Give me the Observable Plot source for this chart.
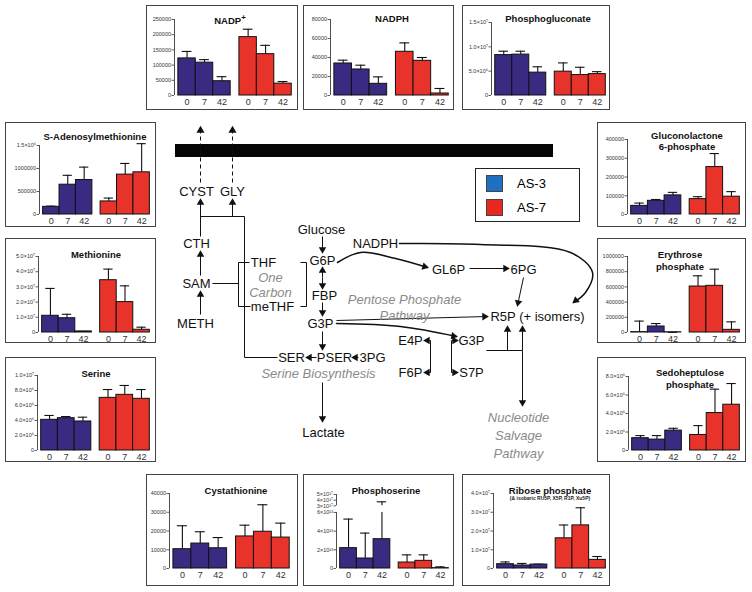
<!DOCTYPE html>
<html><head><meta charset="utf-8">
<script src="https://cdn.jsdelivr.net/npm/d3@7"></script>
<script src="https://cdn.jsdelivr.net/npm/@observablehq/plot@0.6"></script>
<style>
body{margin:0;background:#fff;font-family:"Liberation Sans",Arial,sans-serif;}
#root{position:relative;width:752px;height:592px;overflow:hidden;background:#fff}
.box{position:absolute;border:1px solid #444;background:#fff;box-sizing:border-box}
.box svg{position:absolute;left:0;top:0;overflow:visible}
.title{position:absolute;font-weight:bold;font-size:9.5px;text-align:center;white-space:nowrap;transform:translate(-50%,-50%);line-height:11px;color:#111}
.sub{position:absolute;font-weight:bold;font-size:5px;white-space:nowrap;transform:translate(-50%,-50%);color:#222}
#legend{position:absolute;left:475px;top:168px;width:105px;height:54px;border:1px solid #222;box-sizing:border-box;font-size:13px}
#legend .row{position:absolute;left:10px;height:17px;display:flex;align-items:center}
#legend .sw{width:17px;height:17px;margin-right:14px;box-sizing:border-box;border:1px solid #444}
</style></head><body><div id="root"></div><script>
// ---------- data ----------
const timepoints = ["0", "7", "42"];
const groups = ["AS-3", "AS-7"];
const groupColors = ["#3a2a82", "#e8332b"];
const legendColors = ["#1f6fc2", "#e8271e"];

// means then upper error-bar ends: AS-3 (0,7,42), AS-7 (0,7,42)
const nadpMean  = [122000, 108000, 47000, 192000, 136000, 39000];
const nadpErr   = [145000, 118000, 62000, 218000, 165000, 46000];
const nadphMean = [33700, 27400, 12300, 46000, 36500, 2100];
const nadphErr  = [37200, 31900, 19600, 55400, 40000, 7400];
const pgMean    = [8.3e6, 8.4e6, 4.7e6, 4.9e6, 4.2e6, 4.4e6];
const pgErr     = [9.1e6, 9.1e6, 5.9e6, 6.7e6, 5.8e6, 4.9e6];
const samMean   = [167000, 648000, 750000, 284000, 867000, 917000];
const samErr    = [182000, 852000, 1030000, 357000, 1110000, 1540000];
const gl6pMean  = [46000, 73000, 102000, 82000, 253000, 95000];
const gl6pErr   = [61000, 80000, 118000, 95000, 325000, 122000];
const metMean   = [1.1e7, 0.94e7, 0.07e7, 3.44e7, 2.0e7, 0.18e7];
const metErr    = [2.9e7, 1.2e7, 0.07e7, 4.17e7, 3.07e7, 0.35e7];
const e4pMean   = [5000, 79000, 3000, 605000, 614000, 35000];
const e4pErr    = [150000, 118000, 3000, 746000, 833000, 140000];
const serMean   = [4.09e6, 4.31e6, 3.87e6, 7.02e6, 7.42e6, 6.89e6];
const serErr    = [4.67e6, 4.53e6, 4.44e6, 8.13e6, 8.67e6, 8.13e6];
const s7pMean   = [1.33e6, 1.18e6, 2.15e6, 1.68e6, 4.05e6, 4.95e6];
const s7pErr    = [1.61e6, 1.61e6, 2.4e6, 2.69e6, 6.63e6, 7.24e6];
const cysMean   = [10300, 13300, 10800, 17100, 19600, 16500];
const cysErr    = [22800, 19600, 16500, 23100, 34000, 24200];
const pserMean  = [2.18e13, 1.07e13, 3.14e13, 0.64e13, 0.82e13, 0.04e13];
const pserErr   = [5.29e13, 3.79e13, 3.71e17, 1.46e13, 1.46e13, 0.18e13];
const r5pMean   = [0.23e7, 0.16e7, 0.21e7, 1.61e7, 2.3e7, 0.46e7];
const r5pErr    = [0.35e7, 0.27e7, 0.23e7, 2.32e7, 3.24e7, 0.64e7];

// tick values and labels
const nadpTicks = [0, 50000, 100000, 150000, 200000, 250000];
const nadpLabels = ["0", "50000", "100000", "150000", "200000", "250000"];
const nadphTicks = [0, 20000, 40000, 60000, 80000];
const nadphLabels = ["0", "20000", "40000", "60000", "80000"];
const pgTicks = [0, 5e6, 1e7, 1.5e7];
const pgLabels = ["0", "5.0×10⁶", "1.0×10⁷", "1.5×10⁷"];
const samTicks = [0, 500000, 1000000, 1500000];
const samLabels = ["0", "500000", "1000000", "1.5×10⁶"];
const gl6pTicks = [0, 100000, 200000, 300000, 400000];
const gl6pLabels = ["0", "100000", "200000", "300000", "400000"];
const metTicks = [0, 1e7, 2e7, 3e7, 4e7, 5e7];
const metLabels = ["0", "1.0×10⁷", "2.0×10⁷", "3.0×10⁷", "4.0×10⁷", "5.0×10⁷"];
const e4pTicks = [0, 200000, 400000, 600000, 800000, 1000000];
const e4pLabels = ["0", "200000", "400000", "600000", "800000", "1000000"];
const serTicks = [0, 2e6, 4e6, 6e6, 8e6, 1e7];
const serLabels = ["0", "2.0×10⁶", "4.0×10⁶", "6.0×10⁶", "8.0×10⁶", "1.0×10⁷"];
const s7pTicks = [0, 2e6, 4e6, 6e6, 8e6];
const s7pLabels = ["0", "2.0×10⁶", "4.0×10⁶", "6.0×10⁶", "8.0×10⁶"];
const cysTicks = [0, 10000, 20000, 30000, 40000];
const cysLabels = ["0", "10000", "20000", "30000", "40000"];
const pserTicks = [0, 2e13, 4e13, 6e13, 3e17, 4e17, 5e17];
const pserLabels = ["0", "2×10¹³", "4×10¹³", "6×10¹³", "3×10¹⁷", "4×10¹⁷", "5×10¹⁷"];
const r5pTicks = [0, 1e7, 2e7, 3e7, 4e7];
const r5pLabels = ["0", "1.0×10⁷", "2.0×10⁷", "3.0×10⁷", "4.0×10⁷"];

// ---------- layout (positions, not data) ----------
const charts = [
  {title: ["NADP<sup>+</sup>"], mean: nadpMean, err: nadpErr, ticks: nadpTicks, labels: nadpLabels, box: [146, 5, 152, 105], axis: 28, top: 14, base: 90, mr: 4, tx: 230, ty: [19]},
  {title: ["NADPH"], mean: nadphMean, err: nadphErr, ticks: nadphTicks, labels: nadphLabels, box: [303, 5, 151, 105], axis: 27, top: 14, base: 90, mr: 3, tx: 392, ty: [18]},
  {title: ["Phosphogluconate"], mean: pgMean, err: pgErr, ticks: pgTicks, labels: pgLabels, box: [462, 5, 148, 105], axis: 29, top: 17, base: 90, mr: 2, tx: 548, ty: [18]},
  {title: ["S-Adenosylmethionine"], mean: samMean, err: samErr, ticks: samTicks, labels: samLabels, box: [5, 122, 151, 105], axis: 34, top: 23, base: 92, mr: 4, tx: 95, ty: [136]},
  {title: ["Gluconolactone", "6-phosphate"], mean: gl6pMean, err: gl6pErr, ticks: gl6pTicks, labels: gl6pLabels, box: [597, 122, 149, 105], axis: 30, top: 17, base: 92, mr: 4, tx: 687, ty: [135, 146]},
  {title: ["Methionine"], mean: metMean, err: metErr, ticks: metTicks, labels: metLabels, box: [5, 238, 151, 105], axis: 33, top: 18, base: 94, mr: 4, tx: 96, ty: [254]},
  {title: ["Erythrose", "phosphate"], mean: e4pMean, err: e4pErr, ticks: e4pTicks, labels: e4pLabels, box: [597, 238, 149, 105], axis: 30, top: 18, base: 94, mr: 4, tx: 680, ty: [254, 266]},
  {title: ["Serine"], mean: serMean, err: serErr, ticks: serTicks, labels: serLabels, box: [5, 357, 151, 105], axis: 32, top: 18, base: 93, mr: 4, tx: 96, ty: [373]},
  {title: ["Sedoheptulose", "phosphate"], mean: s7pMean, err: s7pErr, ticks: s7pTicks, labels: s7pLabels, box: [597, 357, 149, 105], axis: 31, top: 19, base: 93, mr: 4, tx: 690, ty: [372, 384]},
  {title: ["Cystathionine"], mean: cysMean, err: cysErr, ticks: cysTicks, labels: cysLabels, box: [146, 474, 152, 112], axis: 23, top: 19, base: 94, mr: 6, tx: 236, ty: [490]},
  {title: ["Phosphoserine"], mean: pserMean, err: pserErr, ticks: pserTicks, labels: pserLabels, box: [303, 474, 151, 112], axis: 33, top: 20, base: 94, mr: 3, tx: 386, ty: [490], broken: true},
  {title: ["Ribose phosphate"], sub: "(& isobaric RU5P, X5P, R1P, Xu5P)", mean: r5pMean, err: r5pErr, ticks: r5pTicks, labels: r5pLabels, box: [462, 474, 148, 112], axis: 31, top: 19, base: 94, mr: 2, tx: 550, ty: [490]}
];

const FONT = "'Liberation Sans', Arial, sans-serif";
const root = document.getElementById("root");

// ---------- diagram (drawn with Plot on a pixel-identity scale) ----------
const band = [{x1: 175, x2: 553, y1: 144, y2: 157}];
const nodeText = [
  {t: "CYST", x: 196, y: 191}, {t: "GLY", x: 232, y: 191}, {t: "CTH", x: 196, y: 243},
  {t: "SAM", x: 196, y: 283}, {t: "METH", x: 195, y: 323}, {t: "THF", x: 263, y: 262},
  {t: "meTHF", x: 272, y: 306}, {t: "Glucose", x: 321, y: 229}, {t: "NADPH", x: 375, y: 243},
  {t: "G6P", x: 322, y: 260}, {t: "FBP", x: 324, y: 295}, {t: "G3P", x: 320, y: 323},
  {t: "GL6P", x: 448, y: 269}, {t: "6PG", x: 523, y: 269}, {t: "R5P (+ isomers)", x: 537, y: 316},
  {t: "E4P", x: 410, y: 340}, {t: "G3P", x: 471, y: 340}, {t: "F6P", x: 410, y: 372},
  {t: "S7P", x: 471, y: 372}, {t: "SER", x: 291, y: 357}, {t: "PSER", x: 334, y: 357},
  {t: "3PG", x: 372, y: 357}, {t: "Lactate", x: 323, y: 432}
];
const pathwayText = [
  {t: "One", x: 270, y: 277}, {t: "Carbon", x: 270, y: 292},
  {t: "Pentose Phosphate", x: 404, y: 299}, {t: "Pathway", x: 404, y: 315},
  {t: "Serine Biosynthesis", x: 318, y: 373},
  {t: "Nucleotide", x: 518, y: 417}, {t: "Salvage", x: 518, y: 435}, {t: "Pathway", x: 518, y: 453}
];
const plainLinks = [
  {x1: 200, y1: 216, x2: 244, y2: 216}, {x1: 244, y1: 216, x2: 244, y2: 357}, {x1: 244, y1: 357, x2: 277, y2: 357},
  {x1: 212, y1: 283, x2: 238, y2: 283}, {x1: 238, y1: 262, x2: 238, y2: 306},
  {x1: 238, y1: 262, x2: 249, y2: 262}, {x1: 238, y1: 306, x2: 250, y2: 306},
  {x1: 306, y1: 262, x2: 306, y2: 306}, {x1: 300, y1: 262, x2: 306, y2: 262}, {x1: 300, y1: 306, x2: 306, y2: 306},
  {x1: 430, y1: 340, x2: 430, y2: 372}, {x1: 451, y1: 340, x2: 451, y2: 372},
  {x1: 486, y1: 350, x2: 522, y2: 350}
];
const headArrows = [
  {x1: 200, y1: 314, x2: 200, y2: 291}, {x1: 200, y1: 275, x2: 200, y2: 251},
  {x1: 200, y1: 236, x2: 200, y2: 199}, {x1: 232, y1: 216, x2: 232, y2: 199},
  {x1: 322, y1: 236, x2: 322, y2: 252}, {x1: 322, y1: 277, x2: 322, y2: 267},
  {x1: 322, y1: 277, x2: 322, y2: 288}, {x1: 322, y1: 302, x2: 322, y2: 315},
  {x1: 322, y1: 331, x2: 322, y2: 349}, {x1: 322, y1: 382, x2: 322, y2: 421},
  {x1: 469, y1: 268, x2: 508, y2: 268}, {x1: 523, y1: 277, x2: 517, y2: 305},
  {x1: 336, y1: 320, x2: 487, y2: 316}, {x1: 522, y1: 350, x2: 522, y2: 405},
  {x1: 507, y1: 350, x2: 507, y2: 326}, {x1: 522, y1: 350, x2: 522, y2: 326},
  {x1: 430, y1: 340, x2: 424, y2: 340}, {x1: 430, y1: 372, x2: 424, y2: 372},
  {x1: 451, y1: 340, x2: 457, y2: 340}, {x1: 451, y1: 372, x2: 457, y2: 372},
  {x1: 316, y1: 357, x2: 306, y2: 357}, {x1: 358, y1: 357, x2: 352, y2: 357}
];
const dashedArrows = [{x1: 200, y1: 182, x2: 200, y2: 127}, {x1: 232, y1: 182, x2: 232, y2: 127}];
const curves = [
  [[337, 262], [360, 252], [395, 258], [427, 267]],
  [[399, 243], [480, 244], [570, 252], [592, 272], [585, 292], [573, 302]],
  [[336, 323], [400, 326], [456, 336]]
];

function heads(list) {
  return list.map(a => {
    const dx = a.x2 - a.x1, dy = a.y2 - a.y1, L = Math.hypot(dx, dy) || 1;
    return {x: a.x2 - dx / L * 3, y: a.y2 - dy / L * 3, r: Math.atan2(dx, -dy) * 180 / Math.PI};
  });
}
const curveHeads = heads(curves.map(c => { const a = c[c.length - 2], b = c[c.length - 1]; return {x1: a[0], y1: a[1], x2: b[0], y2: b[1]}; }));
const curvePts = curves.flatMap((c, i) => c.map(p => ({x: p[0], y: p[1], id: i})));

const diagram = Plot.plot({
  width: 752, height: 592, margin: 0,
  x: {domain: [0, 752], range: [0, 752], axis: null},
  y: {domain: [0, 592], range: [0, 592], axis: null},
  style: {fontFamily: FONT, background: "transparent"},
  marks: [
    Plot.rect(band, {x1: "x1", x2: "x2", y1: "y1", y2: "y2", fill: "#050505"}),
    Plot.link(dashedArrows, {x1: "x1", y1: "y1", x2: "x2", y2: "y2", stroke: "#111", strokeDasharray: "4,3"}),
    Plot.dot(heads(dashedArrows), {x: "x", y: "y", rotate: "r", symbol: "triangle", r: 3, fill: "#111"}),
    Plot.link(plainLinks, {x1: "x1", y1: "y1", x2: "x2", y2: "y2", stroke: "#111"}),
    Plot.link(headArrows, {x1: "x1", y1: "y1", x2: "x2", y2: "y2", stroke: "#111"}),
    Plot.dot(heads(headArrows), {x: "x", y: "y", rotate: "r", symbol: "triangle", r: 2.8, fill: "#111"}),
    Plot.line(curvePts, {x: "x", y: "y", z: "id", curve: "catmull-rom", stroke: "#111"}),
    Plot.dot(curveHeads, {x: "x", y: "y", rotate: "r", symbol: "triangle", r: 2.8, fill: "#111"}),
    Plot.text(nodeText, {x: "x", y: "y", text: "t", fontSize: 13, fill: "#111"}),
    Plot.text(pathwayText, {x: "x", y: "y", text: "t", fontSize: 13, fill: "#8a8a8a", fontStyle: "italic"})
  ]
});
diagram.style.position = "absolute"; diagram.style.left = "0px"; diagram.style.top = "0px";
root.appendChild(diagram);

// ---------- legend ----------
const legend = document.createElement("div");
legend.id = "legend";
groups.forEach((g, i) => {
  const row = document.createElement("div");
  row.className = "row"; row.style.top = (6 + i * 24) + "px";
  row.innerHTML = `<div class="sw" style="background:${legendColors[i]}"></div><span>${g}</span>`;
  legend.appendChild(row);
});
root.appendChild(legend);

// ---------- mini bar charts ----------
const barPos = [0, 1, 2, 3.5, 4.5, 5.5];
function brk(v) { return v <= 7e13 ? v / 1e13 : 6.71 + (v - 3e17) / 1e17 * 0.607; }

charts.forEach(c => {
  const [bx, by, bw, bh] = c.box;
  const ty = c.broken ? brk : (v => v);
  const rows = c.mean.map((m, i) => ({
    g: groups[i < 3 ? 0 : 1], t: timepoints[i % 3], pos: barPos[i], mean: ty(m), hi: ty(c.err[i]), rawHi: c.err[i]
  }));
  const ymax = ty(c.ticks[c.ticks.length - 1]);
  const W = bw - 2, H = bh - 2;
  const xDom = [-0.22, 6.6];
  const errSegs = [];
  rows.forEach(r => {
    if (c.broken && r.rawHi > 7e13) {
      errSegs.push({x: r.pos + 0.5, y1: r.mean, y2: brk(6e13)});
      errSegs.push({x: r.pos + 0.5, y1: brk(3e17), y2: r.hi});
    } else errSegs.push({x: r.pos + 0.5, y1: r.mean, y2: r.hi});
  });
  const axisSegs = c.broken
    ? [{y1: 0, y2: brk(6e13)}, {y1: brk(3e17), y2: brk(5e17)}]
    : [{y1: 0, y2: ymax}];
  const tickMap = new Map(c.ticks.map((t, i) => [ty(t), c.labels[i]]));
  const xMap = new Map(rows.map(r => [r.pos + 0.5, r.t]));
  const p = Plot.plot({
    width: W, height: H,
    marginLeft: c.axis - 1, marginRight: c.mr, marginTop: c.top - 1, marginBottom: H - (c.base - 1),
    x: {domain: xDom},
    y: {domain: [0, ymax]},
    color: {domain: groups, range: groupColors},
    style: {fontFamily: FONT, background: "transparent", overflow: "visible"},
    marks: [
      Plot.ruleX(axisSegs, {x: xDom[0], y1: "y1", y2: "y2", stroke: "#222", strokeWidth: 0.8}),
      Plot.axisY({ticks: c.ticks.map(ty), tickFormat: d => tickMap.get(d), fontSize: 5.5, tickSize: 2.5, tickPadding: 1, label: null, color: "#333", strokeWidth: 0.8}),
      Plot.axisX({ticks: rows.map(r => r.pos + 0.5), tickFormat: d => xMap.get(d), fontSize: 9, tickSize: 0, tickPadding: 3.5, label: null, color: "#333"}),
      Plot.ruleX(errSegs, {x: "x", y1: "y1", y2: "y2", stroke: "#111", strokeWidth: 1.1}),
      Plot.ruleY(rows, {y: "hi", x1: r => r.pos + 0.22, x2: r => r.pos + 0.78, stroke: "#111", strokeWidth: 1.1}),
      Plot.rect(rows, {x1: "pos", x2: r => r.pos + 1, y1: 0, y2: "mean", fill: "g", stroke: "#111", strokeWidth: 1})
    ]
  });
  const box = document.createElement("div");
  box.className = "box";
  Object.assign(box.style, {left: bx + "px", top: by + "px", width: bw + "px", height: bh + "px"});
  box.appendChild(p);
  root.appendChild(box);
  c.title.forEach((t, i) => {
    const d = document.createElement("div");
    d.className = "title"; d.innerHTML = t;
    d.style.left = c.tx + "px"; d.style.top = c.ty[i] + "px";
    root.appendChild(d);
  });
  if (c.sub) {
    const s = document.createElement("div");
    s.className = "sub"; s.textContent = c.sub;
    s.style.left = c.tx + "px"; s.style.top = (c.ty[0] + 8) + "px";
    root.appendChild(s);
  }
});
</script></body></html>
